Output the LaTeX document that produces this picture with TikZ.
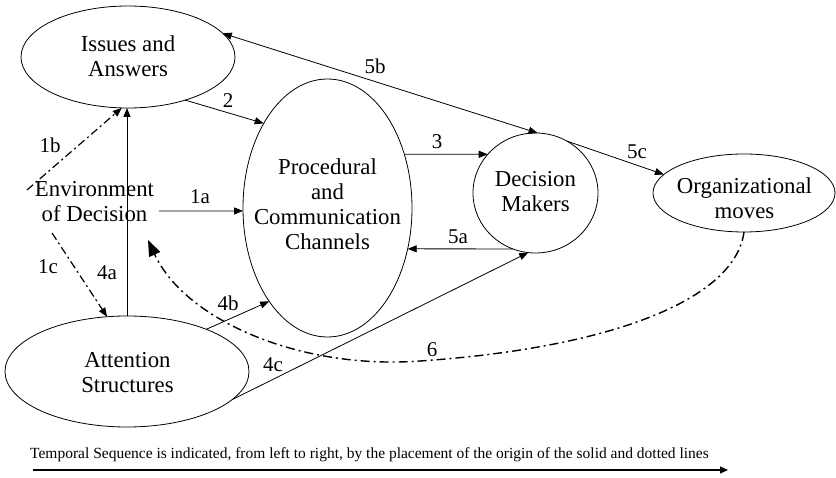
\documentclass[tikz,border=0pt]{standalone}
\usepackage{fontspec}
\setmainfont{Liberation Serif}
\usetikzlibrary{shapes.geometric,arrows.meta}

\begin{document}
\begin{tikzpicture}[x=1pt,y=-1pt,
  oval/.style={ellipse,draw,line width=0.8pt,inner sep=0pt,outer sep=0pt},
  body/.style={align=center,font=\fontsize{22.8}{25}\selectfont,inner sep=0pt},
  num/.style={font=\fontsize{21}{24}\selectfont,inner sep=0pt},
  tip/.style={Triangle[length=9pt,width=7pt]},
  link/.style={line width=0.8pt,-{Triangle[length=9pt,width=7pt]}},
  biglink/.style={line width=0.8pt,{Triangle[length=9pt,width=7pt]}-{Triangle[length=9pt,width=7pt]}},
  dashdot/.style={line width=1.2pt,dash pattern=on 8pt off 3.5pt on 2pt off 3.5pt,
    -{Triangle[length=9pt,width=7pt]}},
  feedback/.style={line width=1.4pt,dash pattern=on 9pt off 4pt on 2pt off 4pt,
    -{Triangle[length=16pt,width=12pt]}},
]
\useasboundingbox (0,0) rectangle (836,478);

% ovals
\node[oval,minimum width=214pt,minimum height=102pt] (issues) at (128,57) {};
\node[oval,minimum width=169pt,minimum height=258pt] (proc) at (327.5,208) {};
\node[oval,minimum width=125pt,minimum height=120pt] (dm) at (535.5,193) {};
\node[oval,minimum width=182pt,minimum height=78pt] (org) at (744,193) {};
\node[oval,minimum width=244pt,minimum height=111pt] (att) at (127,371.5) {};

% texts inside the ovals
\node[body] (issuesT) at (128,59.5) {\strut Issues and\\\strut Answers};
\node[body] (procT) at (327.5,207.5) {\strut Procedural\\\strut and\\\strut Communication\\\strut Channels};
\node[body] (dmT) at (535.5,194) {\strut Decision\\\strut Makers};
\node[body] (orgT) at (744.5,201) {\strut Organizational\\\strut moves};
\node[body] (attT) at (127.5,375) {\strut Attention\\\strut Structures};
\node[body] (env) at (94.5,204.5) {\strut Environment\\\strut of Decision};

% free ends next to the environment text
\coordinate (env1a) at (159,211);
\coordinate (env1b) at (27,190);
\coordinate (env1c) at (52,233);
\coordinate (tip6) at (148,240);

% solid connectors
\draw[biglink] (issues.14) -- (dm.88);
\draw[link] (issues.-37) -- (proc.127);
\draw[link] (proc.35) -- (dm.141);
\draw[link] (env1a) -- (proc.182);
\draw[link] (dm.-112) -- (proc.-27);
\draw[link] (dm.59) -- (org.167.5);
\draw[link] (att.north) -- (att.north |- issues.south);
\draw[link] (att.28) -- (proc.-122);
\draw[link] (att.-15) -- (dm.-97);

% dash-dotted connectors
\draw[dashdot] (env1b) -- (issues.-97);
\draw[dashdot] (env1c) -- (att.110);
\draw[feedback] (org.-90) .. controls (735,300) and (610,348) .. (420,361)
  .. controls (300,370) and (185,320) .. (tip6);

% connector labels
\node[num] (l5b) at (375,66) {5b};
\node[num] (l2) at (228,101) {2};
\node[num] (l3) at (437,142) {3};
\node[num] (l1a) at (200,197) {1a};
\node[num] (l5a) at (458,237) {5a};
\node[num] (l5c) at (637,152) {5c};
\node[num] (l1b) at (50,145) {1b};
\node[num] (l1c) at (48,267) {1c};
\node[num] (l4a) at (107,273) {4a};
\node[num] (l4b) at (228,303) {4b};
\node[num] (l4c) at (273,365) {4c};
\node[num] (l6) at (432,350) {6};

% time axis
\node[anchor=base west,inner sep=0pt,font=\fontsize{15.5}{18}\selectfont] (note) at (30,458)
  {Temporal Sequence is indicated, from left to right, by the placement of the origin of the solid and dotted lines};
\coordinate (axis0) at (33,470);
\coordinate (axis1) at (728,470);
\draw[line width=1.1pt,-{Triangle[length=8pt,width=7pt]}] (axis0) -- (axis1);
\end{tikzpicture}
\end{document}
